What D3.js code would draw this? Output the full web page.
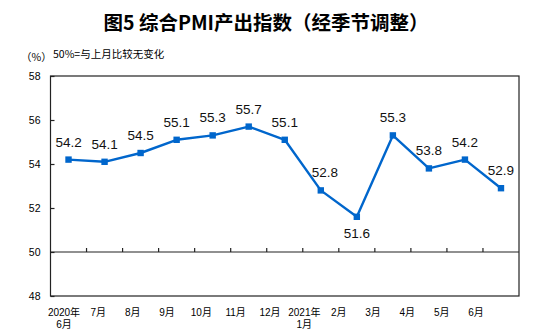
<!DOCTYPE html>
<html>
<head>
<meta charset="utf-8">
<script src="https://cdn.jsdelivr.net/npm/d3@7/dist/d3.min.js"></script>
<style>
  html, body { margin: 0; padding: 0; background: #fff; }
  svg { display: block; }
</style>
</head>
<body>
<svg id="chart" width="550" height="331"></svg>
<script>
// Composite PMI output index, seasonally adjusted
const months = ["2020年6月", "7月", "8月", "9月", "10月", "11月", "12月", "2021年1月", "2月", "3月", "4月", "5月", "6月"];
const monthLines = [["2020年", "6月"], ["7月"], ["8月"], ["9月"], ["10月"], ["11月"], ["12月"], ["2021年", "1月"], ["2月"], ["3月"], ["4月"], ["5月"], ["6月"]];
const pmi = [54.2, 54.1, 54.5, 55.1, 55.3, 55.7, 55.1, 52.8, 51.6, 55.3, 53.8, 54.2, 52.9];
const yTicks = [48, 50, 52, 54, 56, 58];

const svg = d3.select("#chart");
const cjk = "'Noto Sans CJK SC', 'Noto Sans', sans-serif";
const latin = "'Liberation Sans', Arial, sans-serif";
const mixed = "'Liberation Sans', Arial, 'Noto Sans CJK SC', sans-serif";

const plotLeft = 50.5, plotRight = 519, plotTop = 76, plotBottom = 296;

const x = d3.scaleBand().domain(months).range([plotLeft, plotRight]).padding(0);
const xLabel = d3.scalePoint().domain(months).range([64, 476]);
const y = d3.scaleLinear().domain([48, 58]).range([plotBottom, plotTop]);

// Title
svg.append("text")
  .attr("x", 266).attr("y", 30)
  .attr("text-anchor", "middle")
  .attr("font-family", cjk).attr("font-weight", "bold")
  .attr("font-size", 19.5).attr("fill", "#000")
  .text("图5 综合PMI产出指数（经季节调整）");

svg.append("text")
  .attr("x", 21).attr("y", 61)
  .attr("font-family", cjk).attr("font-size", 10.5).attr("fill", "#000")
  .text("（%）");
svg.append("text")
  .attr("x", 53).attr("y", 58)
  .attr("font-family", cjk).attr("font-size", 10.5).attr("fill", "#000")
  .text("50%=与上月比较无变化");

// Frame
svg.append("rect")
  .attr("x", plotLeft).attr("y", plotTop)
  .attr("width", plotRight - plotLeft).attr("height", plotBottom - plotTop)
  .attr("fill", "none").attr("stroke", "#222").attr("stroke-width", 1.2);

// Y axis ticks (inside) and labels
const yAxis = d3.axisLeft(y).tickValues(yTicks).tickSize(-4).tickPadding(10).tickFormat(d3.format("d"));
const gy = svg.append("g").attr("transform", `translate(${plotLeft},0)`).call(yAxis);
gy.select(".domain").remove();
gy.selectAll(".tick line").attr("stroke", "#222").attr("stroke-width", 1.2);
gy.selectAll(".tick text").attr("font-family", latin).attr("font-size", 10.5).attr("fill", "#000");

// Reference line at 50 with category ticks
const y50 = y(50);
svg.append("line")
  .attr("x1", plotLeft).attr("x2", plotRight).attr("y1", y50).attr("y2", y50)
  .attr("stroke", "#222").attr("stroke-width", 1.2);
svg.append("g").selectAll("line")
  .data(months.slice(1))
  .join("line")
  .attr("x1", d => x(d)).attr("x2", d => x(d))
  .attr("y1", y50).attr("y2", y50 - 4)
  .attr("stroke", "#222").attr("stroke-width", 1.2);

// X labels, one text per line
const labelRows = [];
months.forEach((m, i) => monthLines[i].forEach((s, k) => labelRows.push({ m, s, k })));
svg.append("g").selectAll("text")
  .data(labelRows)
  .join("text")
  .attr("x", d => xLabel(d.m))
  .attr("y", d => 316 + d.k * 12)
  .attr("text-anchor", "middle")
  .attr("font-family", mixed).attr("font-size", 10).attr("fill", "#000")
  .text(d => d.s);

// Line
const cx = d => x(d) + x.bandwidth() / 2;
svg.append("path")
  .datum(pmi)
  .attr("fill", "none")
  .attr("stroke", "#0066CC")
  .attr("stroke-width", 2.4)
  .attr("stroke-linejoin", "round")
  .attr("d", d3.line().x((d, i) => cx(months[i])).y(d => y(d)));

// Markers
svg.append("g").selectAll("rect")
  .data(pmi)
  .join("rect")
  .attr("x", (d, i) => cx(months[i]) - 3.2)
  .attr("y", d => y(d) - 3.2)
  .attr("width", 6.4).attr("height", 6.4)
  .attr("fill", "#0066CC");

// Value labels
svg.append("g").selectAll("text")
  .data(pmi)
  .join("text")
  .attr("x", (d, i) => cx(months[i]) + (i === 7 ? 4 : 0))
  .attr("y", (d, i) => i === 8 ? y(d) + 21 : y(d) - 13)
  .attr("text-anchor", "middle")
  .attr("font-family", latin).attr("font-size", 13.5).attr("fill", "#111")
  .text(d => d.toFixed(1));
</script>
</body>
</html>
